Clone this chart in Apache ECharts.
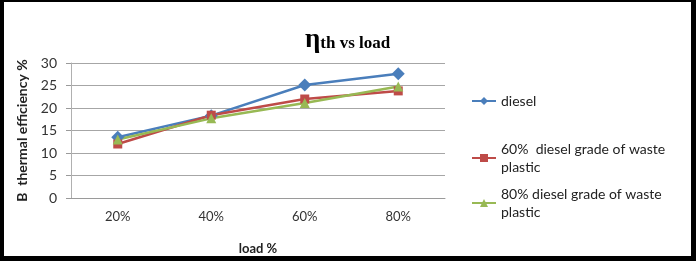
<!DOCTYPE html>
<html>
<head>
<meta charset="utf-8">
<script src="https://cdn.jsdelivr.net/npm/echarts@6/dist/echarts.min.js"></script>
<style>
html,body{margin:0;padding:0;background:#000;width:696px;height:261px;overflow:hidden;}
#frame{position:absolute;left:4px;top:2px;width:687px;height:254px;background:#fff;}
#chart{position:absolute;left:-4px;top:-2px;width:696px;height:261px;}
</style>
</head>
<body>
<div id="frame"><div id="chart"></div></div>
<script>
const categories = ['20%', '40%', '60%', '80%'];
const diesel = [13.5, 18.3, 25.1, 27.6];
const wp60 = [12.0, 18.4, 22.0, 23.8];
const wp80 = [13.0, 17.7, 21.1, 24.8];
const yTicks = [0, 5, 10, 15, 20, 25, 30];
const seriesNames = ['diesel', '60%  diesel grade of waste\nplastic', '80% diesel grade of waste\nplastic'];

const chart = echarts.init(document.getElementById('chart'));
const legendText = {fontFamily: 'Lato, "Open Sans", sans-serif', fontSize: 14, color: '#222', lineHeight: 18};
const legendBase = {orient: 'vertical', left: 471, itemWidth: 24, itemHeight: 10, itemGap: 0, padding: 0, textStyle: legendText};
chart.setOption({
  animation: false,
  title: {
    text: '{eta|η}{th|th vs load}',
    left: 300, top: 22,
    textStyle: {rich: {
      eta: {fontFamily: '"Liberation Serif", serif', fontSize: 27, fontWeight: 'bold', color: '#000'},
      th: {fontFamily: '"Liberation Serif", serif', fontSize: 17, fontWeight: 'bold', color: '#000', padding: [6, 0, 0, 0]}
    }}
  },
  grid: {left: 71, right: 251, top: 63, bottom: 63, containLabel: false},
  legend: [
    Object.assign({}, legendBase, {top: 92, data: [seriesNames[0]]}),
    Object.assign({}, legendBase, {top: 131, data: [seriesNames[1]], textStyle: Object.assign({}, legendText, {padding: [18, 0, 0, 0]})}),
    Object.assign({}, legendBase, {top: 176, data: [seriesNames[2]], textStyle: Object.assign({}, legendText, {padding: [18, 0, 0, 0]})})
  ],
  xAxis: {
    type: 'category', data: categories, boundaryGap: true,
    name: 'load %', nameLocation: 'middle', nameGap: 44,
    nameTextStyle: {fontFamily: 'Lato, sans-serif', fontSize: 13, fontWeight: 'bold', color: '#222'},
    axisLine: {lineStyle: {color: '#9a9a9a', width: 1}},
    axisTick: {show: false},
    axisLabel: {fontFamily: 'Lato, sans-serif', fontSize: 13, color: '#333', margin: 12}
  },
  yAxis: {
    type: 'value', min: yTicks[0], max: yTicks[yTicks.length - 1], interval: 5,
    name: 'B  thermal efficiency %', nameLocation: 'middle', nameRotate: 90, nameGap: 42,
    nameTextStyle: {fontFamily: 'Lato, sans-serif', fontSize: 14, fontWeight: 'bold', color: '#222'},
    axisLine: {show: true, lineStyle: {color: '#b0b0b0', width: 1}},
    axisTick: {show: true, length: 5, lineStyle: {color: '#9a9a9a'}},
    axisLabel: {fontFamily: 'Lato, sans-serif', fontSize: 14, color: '#333', margin: 14},
    splitLine: {lineStyle: {color: '#a6a6a6', width: 1}}
  },
  series: [
    {name: seriesNames[0], type: 'line', data: diesel, symbol: 'diamond', symbolSize: 13,
     itemStyle: {color: '#4A7EBB'}, lineStyle: {color: '#4A7EBB', width: 2.5}},
    {name: seriesNames[1], type: 'line', data: wp60, symbol: 'rect', symbolSize: 9,
     itemStyle: {color: '#BE4B48'}, lineStyle: {color: '#BE4B48', width: 2.5}},
    {name: seriesNames[2], type: 'line', data: wp80, symbol: 'triangle', symbolSize: 10,
     itemStyle: {color: '#98B954'}, lineStyle: {color: '#98B954', width: 2.5}}
  ]
});
</script>
</body>
</html>
